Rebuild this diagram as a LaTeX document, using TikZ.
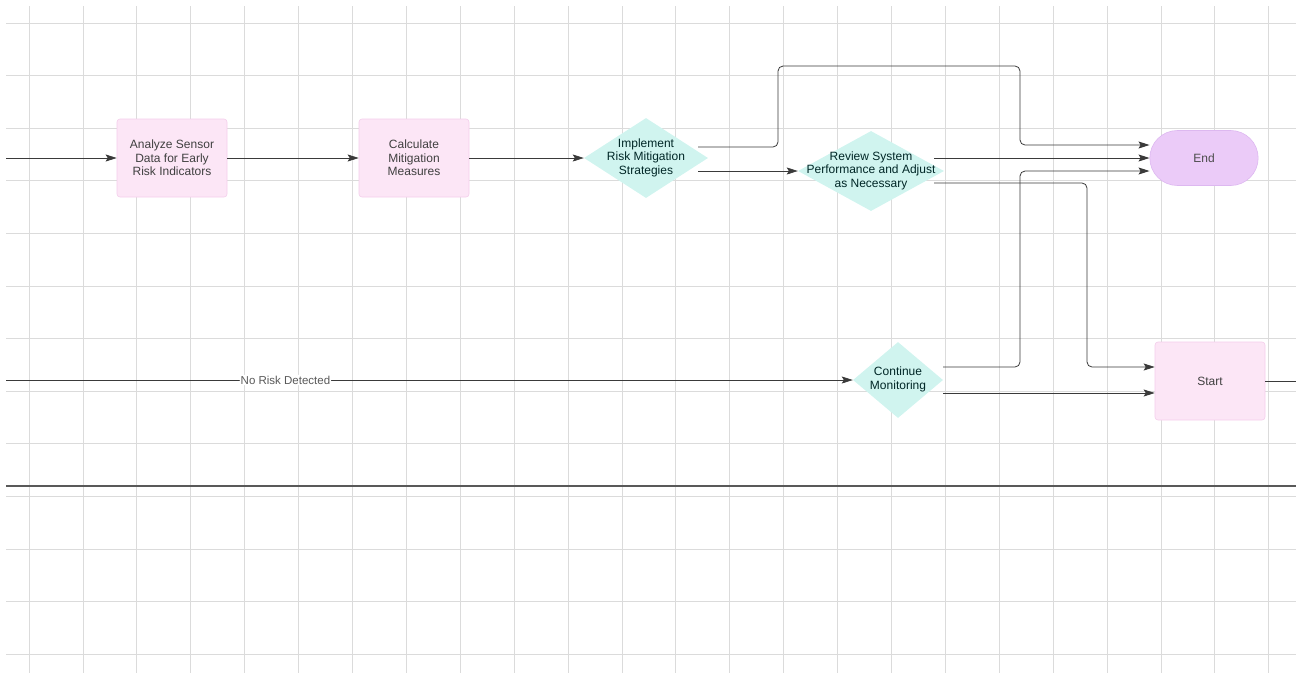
\documentclass[tikz,border=0pt]{standalone}
\usepackage{fontspec}
\setmainfont{Liberation Sans}
\usetikzlibrary{shapes.geometric, shapes.misc, arrows.meta}
\definecolor{boxpink}{HTML}{FCE6F6}
\definecolor{boxedge}{HTML}{F4CDEB}
\definecolor{diamint}{HTML}{D0F4EF}
\definecolor{endlila}{HTML}{EBCBF8}
\definecolor{endedge}{HTML}{DDB8F0}
\definecolor{linegray}{HTML}{3A3A3A}
\newcommand{\dtext}[1]{\makebox[0pt]{\begin{tabular}{@{}c@{}}#1\end{tabular}}}
\begin{document}
\begin{tikzpicture}[x=1pt, y=-1pt, >={Stealth[length=11pt, width=7pt, inset=2pt]},
  every node/.style={font=\fontsize{12}{13.5}\selectfont},
  pbox/.style={rectangle, rounded corners=3pt, fill=boxpink, draw=boxedge, line width=0.6pt,
    minimum width=110pt, minimum height=78pt, align=center, text=black!75},
  dmd/.style={diamond, fill=diamint, draw=none, inner sep=0pt, text=black!70!teal},
  conn/.style={draw=linegray, line width=0.8pt, rounded corners=5pt}]
\useasboundingbox (0,0) rectangle (1296,673);
% grid
\foreach \k in {0,...,23}
  \draw[black!14, line width=0.8pt] ({29+53.9*\k}, 6) -- ({29+53.9*\k}, 673);
\foreach \k in {0,...,12}
  \draw[black!14, line width=0.8pt] (6, {23+52.6*\k}) -- (1296, {23+52.6*\k});
\draw[black!65, line width=1.3pt] (6,486) -- (1296,486);

% nodes
\node[pbox] (analyze) at (172,158) {Analyze Sensor\\Data for Early\\Risk Indicators};
\node[pbox] (calc) at (414,158) {Calculate\\Mitigation\\Measures};
\node[dmd, minimum width=124pt, minimum height=80pt] (impl) at (646,158)
  {\dtext{Implement\\Risk Mitigation\\Strategies}};
\node[dmd, minimum width=146pt, minimum height=80pt] (rev) at (871,171)
  {\dtext{Review System\\Performance and Adjust\\as Necessary}};
\node[rounded rectangle, fill=endlila, draw=endedge, line width=0.6pt,
  minimum width=115pt, minimum height=55pt, text=black!70] (end) at (1204,158) {End};
\node[dmd, minimum width=90pt, minimum height=76pt] (cont) at (898,380)
  {\dtext{Continue\\Monitoring}};
\node[pbox] (start) at (1210,381) {Start};
\coordinate (inA) at (6,158);
\coordinate (inN) at (6,380);
\coordinate (out) at (1296,381);

% connectors
\draw[conn, ->] (inA) -- (analyze);
\draw[conn, ->] (analyze) -- (calc);
\draw[conn, ->] (calc) -- (impl);
\draw[conn, ->] ([shift={(-10pt,-13pt)}]impl.east) -- (rev.west);
\draw[conn, ->] ([shift={(-10pt,11pt)}]impl.east) -| (778,66) -| (1020,145) -- ([yshift=13pt]end.west);
\draw[conn, ->] ([shift={(-10pt,13pt)}]rev.east) -- (end.west);
\draw[conn, ->] ([shift={(-10pt,-12pt)}]rev.east) -| (1087,367) -- ([yshift=14pt]start.west);
\draw[conn, ->] ([yshift=13pt]cont.east) -| (1020,171) -- ([yshift=-13pt]end.west);
\draw[conn, ->] ([yshift=-13pt]cont.east) -- ([yshift=-12pt]start.west);
\draw[conn, ->] (inN) -- (cont.west)
  node[pos=0.33, fill=white, inner sep=1pt, text=black!65, font=\fontsize{11.5}{13}\selectfont] {No Risk Detected};
\draw[conn] (start.east) -- (out);
\end{tikzpicture}
\end{document}
